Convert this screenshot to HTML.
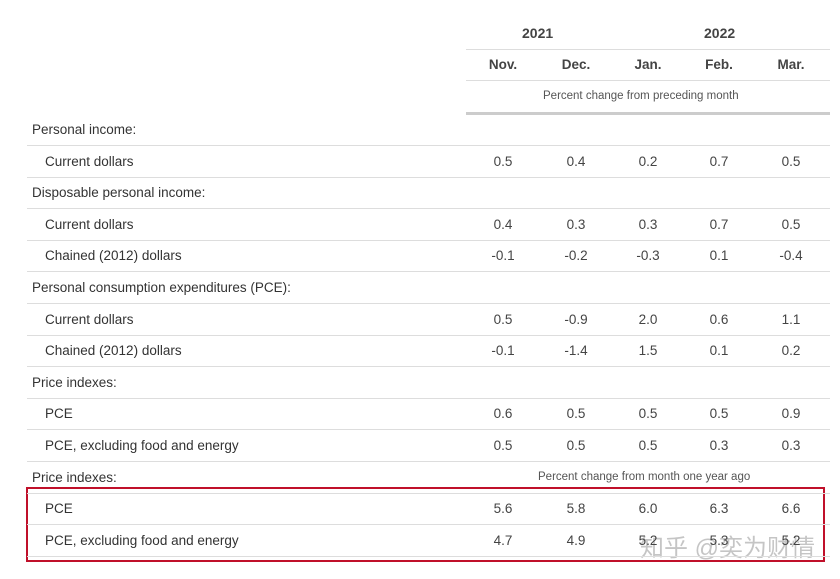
<!DOCTYPE html>
<html><head><meta charset="utf-8"><style>
body{margin:0;width:840px;height:579px;background:#fff;position:relative;overflow:hidden;font-family:"Liberation Sans","Noto Sans CJK SC",sans-serif;color:#333}
.a{position:absolute;white-space:nowrap}
.ln{position:absolute;height:1px;background:#ddd}
.n{position:absolute;font-size:13.5px;width:60px;text-align:center;color:#444}
.lab{position:absolute;font-size:13.5px;color:#333}
</style></head><body>
<div class="a" style="left:522px;top:25px;font-size:14px;font-weight:bold;color:#444">2021</div>
<div class="a" style="left:704px;top:25px;font-size:14px;font-weight:bold;color:#444">2022</div>
<div class="ln" style="left:466px;top:49px;width:364px"></div>
<div class="ln" style="left:466px;top:80px;width:364px"></div>
<div class="a" style="left:543px;top:90px;font-size:11.5px;color:#555">Percent change from preceding month</div>
<div class="ln" style="left:466px;top:112px;width:364px;height:3px;background:#ccc"></div>
<div class="a" style="left:538px;top:471px;font-size:11.5px;color:#555">Percent change from month one year ago</div>
<div style="position:absolute;left:26px;top:487px;width:795px;height:71px;border:2px solid #c0102a"></div>
<div class="a" style="left:640px;top:528px;font-size:24px;color:rgba(150,150,150,0.55)">知乎 @奕为财情</div>
<div id="t"></div>
<script>
const months=["Nov.","Dec.","Jan.","Feb.","Mar."];
const labels=["Personal income:","Current dollars","Disposable personal income:","Current dollars","Chained (2012) dollars","Personal consumption expenditures (PCE):","Current dollars","Chained (2012) dollars","Price indexes:","PCE","PCE, excluding food and energy","Price indexes:","PCE","PCE, excluding food and energy"];
const indent=[0,1,0,1,1,0,1,1,0,1,1,0,1,1];
const values=[null,["0.5","0.4","0.2","0.7","0.5"],null,["0.4","0.3","0.3","0.7","0.5"],["-0.1","-0.2","-0.3","0.1","-0.4"],null,["0.5","-0.9","2.0","0.6","1.1"],["-0.1","-1.4","1.5","0.1","0.2"],null,["0.6","0.5","0.5","0.5","0.9"],["0.5","0.5","0.5","0.3","0.3"],null,["5.6","5.8","6.0","6.3","6.6"],["4.7","4.9","5.2","5.3","5.2"]];
const cx=[503,576,648,719,791];
const t=document.getElementById('t');
months.forEach((m,i)=>{const d=document.createElement('div');d.className='n';d.style.left=(cx[i]-30)+'px';d.style.top='57px';d.style.fontWeight='bold';d.textContent=m;


t.appendChild(d);});
labels.forEach((l,r)=>{const y=122+r*31.6;
const ln=document.createElement('div');ln.className='ln';ln.style.left='27px';ln.style.width='803px';ln.style.top=(y+23)+'px';t.appendChild(ln);
const d=document.createElement('div');d.className='lab';d.style.left=(indent[r]?45:32)+'px';d.style.top=y+'px';d.textContent=l;


t.appendChild(d);
if(values[r])values[r].forEach((v,i)=>{const c=document.createElement('div');c.className='n';c.style.left=(cx[i]-30)+'px';c.style.top=y+'px';c.textContent=v;


t.appendChild(c);});
});
</script>
</body></html>
